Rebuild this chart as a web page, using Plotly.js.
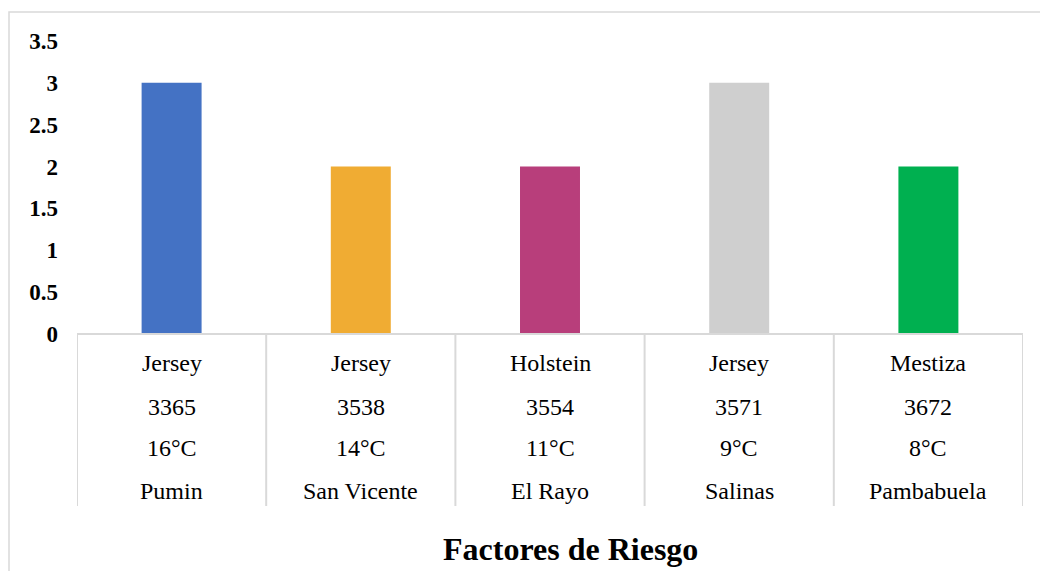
<!DOCTYPE html>
<html>
<head>
<meta charset="utf-8">
<script src="https://cdn.plot.ly/plotly-3.0.1.min.js"></script>
<style>html,body{margin:0;padding:0;background:#fff;}</style>
</head>
<body>
<div id="chart" style="width:1040px;height:571px;"></div>
<script>
const razas = ["Jersey", "Jersey", "Holstein", "Jersey", "Mestiza"];
const altitudes = ["3365", "3538", "3554", "3571", "3672"];
const temperaturas = ["16°C", "14°C", "11°C", "9°C", "8°C"];
const lugares = ["Pumin", "San Vicente", "El Rayo", "Salinas", "Pambabuela"];
const valores = [3, 2, 2, 3, 2];
const colores = ["#4472C4", "#F0AC33", "#B83E7B", "#CFCFCF", "#00B050"];
const yTicks = [0, 0.5, 1, 1.5, 2, 2.5, 3, 3.5];
const tituloX = "Factores de Riesgo";

const xIdx = lugares.map((_, i) => i);
const serif = "Liberation Serif, Times New Roman, DejaVu Serif, serif";

const trace = {
  type: "bar",
  x: xIdx,
  y: valores,
  marker: { color: colores },
  width: 0.317,
  hoverinfo: "y"
};

const rows = [razas, altitudes, temperaturas, lugares];
const rowShift = [-29, -73, -114, -157];
const annotations = [];
rows.forEach((row, r) => {
  row.forEach((txt, i) => {
    annotations.push({
      x: i, xref: "x", y: 0, yref: "paper",
      yanchor: "middle", yshift: rowShift[r],
      text: txt, showarrow: false,
      font: { family: serif, size: 24, color: "#000" }
    });
  });
});
annotations.push({
  x: (570 - 77) / 946, xref: "paper", y: 0, yref: "paper",
  yanchor: "middle", yshift: -(549 - 334),
  text: "<b>" + tituloX + "</b>", showarrow: false,
  font: { family: serif, size: 32, color: "#000" }
});

const shapes = [];
for (let k = 0; k <= lugares.length; k++) {
  shapes.push({
    type: "line", xref: "x", yref: "paper",
    x0: k - 0.5, x1: k - 0.5, y0: 0, y1: (334 - 506) / 293,
    line: { color: "#D9D9D9", width: 2 }
  });
}
shapes.push({
  type: "line", xref: "x", yref: "paper",
  x0: -0.5, x1: lugares.length - 0.5, y0: 0, y1: 0,
  line: { color: "#D9D9D9", width: 2 }
});
shapes.push({
  type: "rect", xref: "paper", yref: "paper",
  x0: (9 - 77) / 946, x1: (1045 - 77) / 946,
  y0: (334 - 580) / 293, y1: (334 - 12) / 293,
  line: { color: "#D9D9D9", width: 1.5 }
});

const layout = {
  width: 1040, height: 571,
  margin: { l: 77, r: 17, t: 41, b: 237 },
  paper_bgcolor: "#fff", plot_bgcolor: "#fff",
  showlegend: false,
  font: { family: serif },
  xaxis: {
    range: [-0.5, lugares.length - 0.5],
    showticklabels: false, showgrid: false, zeroline: false,
    showline: false, ticks: "", fixedrange: true
  },
  yaxis: {
    range: [0, 3.5],
    tickvals: yTicks,
    ticktext: yTicks.map(v => "<b>" + v + "</b>"),
    showgrid: false, zeroline: false, showline: false,
    ticks: "", ticklabelstandoff: 18,
    tickfont: { family: serif, size: 23, color: "#000" },
    fixedrange: true
  },
  annotations: annotations,
  shapes: shapes
};

Plotly.newPlot("chart", [trace], layout, { displayModeBar: false, staticPlot: true });
</script>
</body>
</html>
